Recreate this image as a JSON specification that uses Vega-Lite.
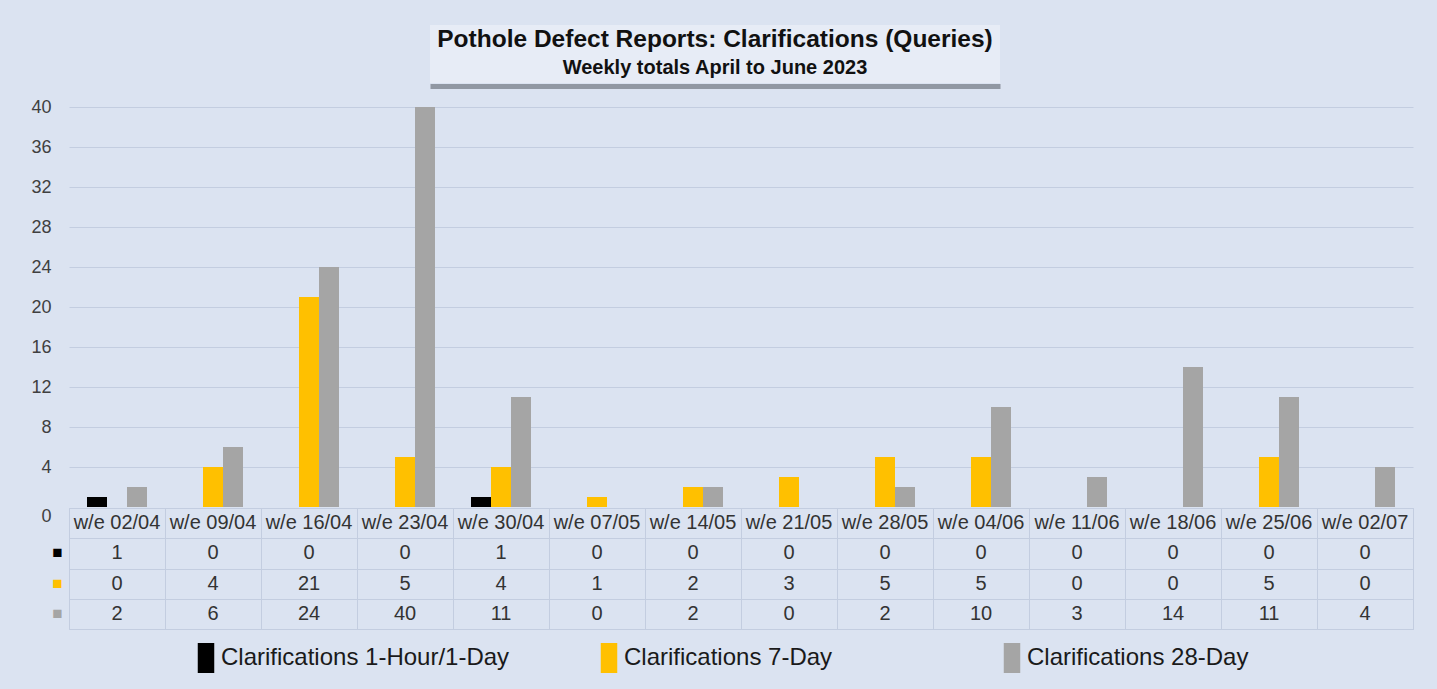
{
  "$schema": "https://vega.github.io/schema/vega-lite/v6.json",
  "background": "#dbe3f1",
  "padding": {"left": 30, "top": 25, "right": 24, "bottom": 16},
  "spacing": 0,
  "config": {
    "font": "Liberation Sans",
    "view": {"stroke": null},
    "axis": {"labelFont": "Liberation Sans"}
  },
  "datasets": {
    "d": [
      {"week": "w/e 02/04", "series": "Clarifications 1-Hour/1-Day", "value": 1},
      {"week": "w/e 09/04", "series": "Clarifications 1-Hour/1-Day", "value": 0},
      {"week": "w/e 16/04", "series": "Clarifications 1-Hour/1-Day", "value": 0},
      {"week": "w/e 23/04", "series": "Clarifications 1-Hour/1-Day", "value": 0},
      {"week": "w/e 30/04", "series": "Clarifications 1-Hour/1-Day", "value": 1},
      {"week": "w/e 07/05", "series": "Clarifications 1-Hour/1-Day", "value": 0},
      {"week": "w/e 14/05", "series": "Clarifications 1-Hour/1-Day", "value": 0},
      {"week": "w/e 21/05", "series": "Clarifications 1-Hour/1-Day", "value": 0},
      {"week": "w/e 28/05", "series": "Clarifications 1-Hour/1-Day", "value": 0},
      {"week": "w/e 04/06", "series": "Clarifications 1-Hour/1-Day", "value": 0},
      {"week": "w/e 11/06", "series": "Clarifications 1-Hour/1-Day", "value": 0},
      {"week": "w/e 18/06", "series": "Clarifications 1-Hour/1-Day", "value": 0},
      {"week": "w/e 25/06", "series": "Clarifications 1-Hour/1-Day", "value": 0},
      {"week": "w/e 02/07", "series": "Clarifications 1-Hour/1-Day", "value": 0},
      {"week": "w/e 02/04", "series": "Clarifications 7-Day", "value": 0},
      {"week": "w/e 09/04", "series": "Clarifications 7-Day", "value": 4},
      {"week": "w/e 16/04", "series": "Clarifications 7-Day", "value": 21},
      {"week": "w/e 23/04", "series": "Clarifications 7-Day", "value": 5},
      {"week": "w/e 30/04", "series": "Clarifications 7-Day", "value": 4},
      {"week": "w/e 07/05", "series": "Clarifications 7-Day", "value": 1},
      {"week": "w/e 14/05", "series": "Clarifications 7-Day", "value": 2},
      {"week": "w/e 21/05", "series": "Clarifications 7-Day", "value": 3},
      {"week": "w/e 28/05", "series": "Clarifications 7-Day", "value": 5},
      {"week": "w/e 04/06", "series": "Clarifications 7-Day", "value": 5},
      {"week": "w/e 11/06", "series": "Clarifications 7-Day", "value": 0},
      {"week": "w/e 18/06", "series": "Clarifications 7-Day", "value": 0},
      {"week": "w/e 25/06", "series": "Clarifications 7-Day", "value": 5},
      {"week": "w/e 02/07", "series": "Clarifications 7-Day", "value": 0},
      {"week": "w/e 02/04", "series": "Clarifications 28-Day", "value": 2},
      {"week": "w/e 09/04", "series": "Clarifications 28-Day", "value": 6},
      {"week": "w/e 16/04", "series": "Clarifications 28-Day", "value": 24},
      {"week": "w/e 23/04", "series": "Clarifications 28-Day", "value": 40},
      {"week": "w/e 30/04", "series": "Clarifications 28-Day", "value": 11},
      {"week": "w/e 07/05", "series": "Clarifications 28-Day", "value": 0},
      {"week": "w/e 14/05", "series": "Clarifications 28-Day", "value": 2},
      {"week": "w/e 21/05", "series": "Clarifications 28-Day", "value": 0},
      {"week": "w/e 28/05", "series": "Clarifications 28-Day", "value": 2},
      {"week": "w/e 04/06", "series": "Clarifications 28-Day", "value": 10},
      {"week": "w/e 11/06", "series": "Clarifications 28-Day", "value": 3},
      {"week": "w/e 18/06", "series": "Clarifications 28-Day", "value": 14},
      {"week": "w/e 25/06", "series": "Clarifications 28-Day", "value": 11},
      {"week": "w/e 02/07", "series": "Clarifications 28-Day", "value": 4}
    ],
    "titles": [
      {"text": "Pothole Defect Reports: Clarifications  (Queries)", "kind": "title"},
      {"text": "Weekly totals April  to June 2023", "kind": "sub"}
    ]
  },
  "vconcat": [
    {
      "bounds": "flush",
      "spacing": 0,
      "hconcat": [
        {
          "width": 361,
          "height": 73,
          "view": {"fill": "transparent", "stroke": null},
          "data": {"values": [{"t": ""}]},
          "mark": {"type": "text"},
          "encoding": {"text": {"field": "t"}}
        },
        {
          "width": 570,
          "height": 58,
          "view": {"fill": "#e7ecf6", "stroke": null},
          "data": {"name": "titles"},
          "layer": [
            {
              "transform": [{"filter": "datum.kind === 'title'"}],
              "mark": {"type": "text", "fontSize": 24.5, "fontWeight": "bold", "color": "#111111", "baseline": "alphabetic", "align": "center"},
              "encoding": {
                "text": {"field": "text"},
                "x": {"datum": 0.5, "type": "quantitative", "scale": {"domain": [0, 1]},
                  "axis": {"labels": false, "ticks": false, "grid": false, "domain": true, "domainColor": "#9198a3", "domainWidth": 5, "offset": 3, "title": null}},
                "y": {"datum": 23, "type": "quantitative", "scale": {"domain": [0, 58], "reverse": true}, "axis": null}
              }
            },
            {
              "transform": [{"filter": "datum.kind === 'sub'"}],
              "mark": {"type": "text", "fontSize": 20, "fontWeight": "bold", "color": "#111111", "baseline": "alphabetic", "align": "center"},
              "encoding": {
                "text": {"field": "text"},
                "x": {"datum": 0.5, "type": "quantitative"},
                "y": {"datum": 51, "type": "quantitative"}
              }
            }
          ]
        }
      ]
    },
    {
      "width": 1344,
      "height": 400,
      "data": {"name": "d"},
      "mark": {"type": "bar"},
      "encoding": {
        "x": {"field": "week", "type": "nominal", "sort": null,
          "scale": {"paddingInner": 0.375, "paddingOuter": 0.1875}, "axis": null},
        "xOffset": {"field": "series", "type": "nominal",
          "scale": {"domain": ["Clarifications 1-Hour/1-Day", "Clarifications 7-Day", "Clarifications 28-Day"]}},
        "y": {"field": "value", "type": "quantitative",
          "scale": {"domain": [0, 40], "nice": false},
          "axis": {"values": [4, 8, 12, 16, 20, 24, 28, 32, 36, 40], "title": null, "ticks": false, "domain": false,
            "gridColor": "#c3cde0", "gridWidth": 1, "labelFontSize": 18, "labelColor": "#404040", "labelPadding": 18}},
        "color": {"field": "series", "type": "nominal",
          "scale": {"domain": ["Clarifications 1-Hour/1-Day", "Clarifications 7-Day", "Clarifications 28-Day"],
            "range": ["#000000", "#ffc000", "#a5a5a5"]},
          "legend": {
            "title": null, "orient": "none", "legendX": 122, "legendY": 618,
            "direction": "horizontal", "columns": 3, "gridAlign": "all", "columnPadding": 84,
            "symbolType": "M-0.55,-1H0.55V1H-0.55Z", "symbolSize": 900, "symbolStrokeWidth": 0,
            "labelFontSize": 24, "labelColor": "#1a1a1a", "labelOffset": 0, "labelLimit": 400
          }}
      }
    },
    {
      "width": 1344,
      "height": 121,
      "view": {"stroke": "#c3cde0", "strokeWidth": 1},
      "data": {"name": "d"},
      "resolve": {"axis": {"y": "independent"}},
      "encoding": {
        "x": {"field": "week", "type": "nominal", "sort": null,
          "scale": {"paddingInner": 0, "paddingOuter": 0},
          "axis": {"labels": false, "ticks": false, "domain": false, "grid": true, "tickBand": "extent", "gridColor": "#c3cde0", "title": null}}
      },
      "layer": [
        {
          "transform": [{"filter": "datum.series === 'Clarifications 1-Hour/1-Day'"}],
          "mark": {"type": "text", "fontSize": 20, "color": "#333333", "baseline": "middle"},
          "encoding": {
            "text": {"field": "week"},
            "y": {"datum": "hdr", "type": "nominal",
              "scale": {"domain": ["hdr", "Clarifications 1-Hour/1-Day", "Clarifications 7-Day", "Clarifications 28-Day"], "paddingInner": 0, "paddingOuter": 0},
              "axis": {"title": null, "ticks": false, "domain": false, "grid": false,
                "labelExpr": "datum.value === 'hdr' ? '0' : '■'",
                "labelFontSize": {"condition": {"test": "datum.value === 'hdr'", "value": 18}, "value": 17},
                "labelAlign": {"condition": {"test": "datum.value === 'hdr'", "value": "right"}, "value": "center"},
                "labelBaseline": {"condition": {"test": "datum.value === 'hdr'", "value": "top"}, "value": "middle"},
                "labelOffset": {"condition": {"test": "datum.value === 'hdr'", "value": -15}, "value": 0},
                "labelPadding": {"condition": {"test": "datum.value === 'hdr'", "value": 18}, "value": 12},
                "labelColor": {"condition": [
                  {"test": "datum.value === 'hdr'", "value": "#404040"},
                  {"test": "datum.value === 'Clarifications 1-Hour/1-Day'", "value": "#000000"},
                  {"test": "datum.value === 'Clarifications 7-Day'", "value": "#ffc000"}
                ], "value": "#a5a5a5"}}}
          }
        },
        {
          "mark": {"type": "text", "fontSize": 20, "color": "#333333", "baseline": "middle"},
          "encoding": {
            "text": {"field": "value", "type": "quantitative"},
            "y": {"field": "series", "type": "nominal",
              "axis": {"orient": "right", "title": null, "labels": false, "ticks": false, "domain": false, "grid": true, "tickBand": "extent", "gridColor": "#c3cde0"}}
          }
        }
      ]
    }
  ]
}
